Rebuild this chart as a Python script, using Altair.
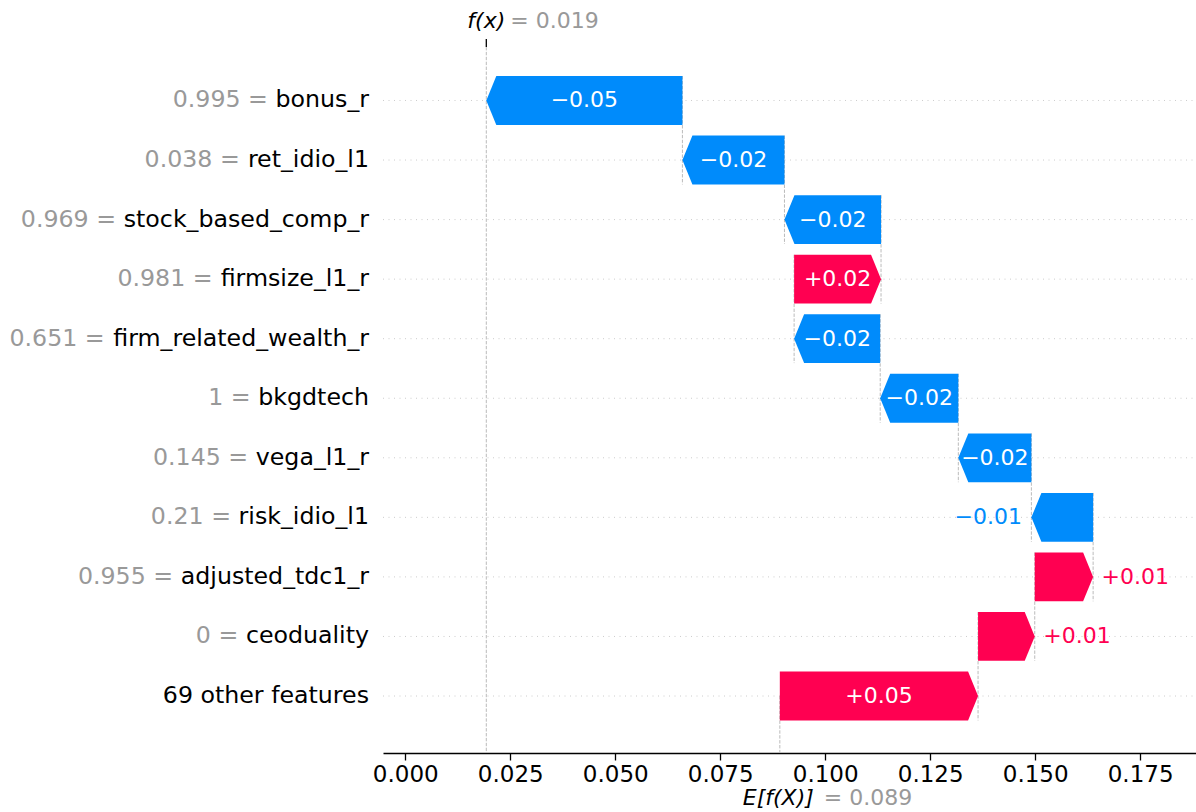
import altair as alt
import pandas as pd

# ---------------- data (top row first) ----------------
features = ["bonus_r", "ret_idio_l1", "stock_based_comp_r", "firmsize_l1_r",
            "firm_related_wealth_r", "bkgdtech", "vega_l1_r", "risk_idio_l1",
            "adjusted_tdc1_r", "ceoduality", "69 other features"]
feature_values = ["0.995", "0.038", "0.969", "0.981", "0.651", "1", "0.145",
                  "0.21", "0.955", "0", ""]
shap_values = [-0.0467, -0.0243, -0.0230, 0.0207, -0.0205, -0.0186, -0.0174,
               -0.0147, 0.0139, 0.0135, 0.0472]
base_value = 0.0892
x_ticks = [0.000, 0.025, 0.050, 0.075, 0.100, 0.125, 0.150, 0.175]

# ---------------- layout / style ----------------
BLUE = "#008bfb"
RED = "#ff0051"
FONT = "DejaVu Sans"
W, H = 813, 706
X_DOMAIN = [-0.0053, 0.1883]
Y_DOMAIN = [-0.898, 10.957]
BAR_HALF = 0.41
HEAD = 10 * (X_DOMAIN[1] - X_DOMAIN[0]) / W
NAME_SIZE = 23.7
LABEL_SIZE = 22

n = len(features)
fx_value = base_value + sum(shap_values)
starts = [0.0] * n
ends = [0.0] * n
cur = base_value
for i in range(n - 1, -1, -1):
    starts[i] = cur
    cur += shap_values[i]
    ends[i] = cur

xs = alt.Scale(domain=X_DOMAIN, nice=False, zero=False)
ys = alt.Scale(domain=Y_DOMAIN, nice=False, zero=False, reverse=True)
X_AXIS = alt.Axis(
    values=x_ticks, format=".3f", title=None, grid=False,
    labelFont=FONT, labelFontSize=23, labelColor="black",
    tickColor="black", domainColor="black", tickSize=7,
    tickWidth=1.3, domainWidth=1.3, labelPadding=3, labelFlush=False)


def X(field):
    return alt.X(field, scale=xs, axis=X_AXIS)


def Y(field):
    return alt.Y(field, scale=ys, axis=None)


# arrows as polygons (area with y/y2)
arr = []
for i, v in enumerate(shap_values):
    sgn = 1 if v > 0 else -1
    neck = ends[i] - sgn * min(HEAD, abs(v))
    kind = "pos" if v > 0 else "neg"
    arr.append(dict(id=i, x=starts[i], y=i - BAR_HALF, y2=i + BAR_HALF, kind=kind))
    arr.append(dict(id=i, x=neck, y=i - BAR_HALF, y2=i + BAR_HALF, kind=kind))
    arr.append(dict(id=i, x=ends[i], y=i, y2=i, kind=kind))
arr_df = pd.DataFrame(arr)

arrows = alt.Chart(arr_df).mark_area(orient="vertical", opacity=1).encode(
    x=X("x:Q"),
    y=alt.Y("y:Q", scale=ys, axis=None, stack=False),
    y2="y2:Q",
    detail="id:N",
    color=alt.Color("kind:N", scale=alt.Scale(domain=["pos", "neg"], range=[RED, BLUE]),
                    legend=None),
)

rows_df = pd.DataFrame({"row": list(range(n)), "name": features, "val": feature_values})

grid = alt.Chart(rows_df).mark_rule(color="#cccccc", strokeDash=[1, 4.5], strokeWidth=1).encode(
    y=Y("row:Q"),
    x=alt.value(0), x2=alt.value(W),
)

# connectors
con = []
for k in range(n - 1):
    con.append(dict(x=starts[k], y=k - BAR_HALF, y2=k + 1 + BAR_HALF))
con.append(dict(x=fx_value, y=Y_DOMAIN[0], y2=Y_DOMAIN[1]))
con.append(dict(x=base_value, y=n - 1, y2=Y_DOMAIN[1]))
con_df = pd.DataFrame(con)
connectors = alt.Chart(con_df).mark_rule(color="#bbbbbb", strokeDash=[3.4, 1.5], strokeWidth=1).encode(
    x=X("x:Q"),
    y=Y("y:Q"),
    y2="y2:Q",
)


# bar labels
def fmt(v):
    return ("%+0.02f" % v).replace("-", "\u2212")


lab = []
for i, v in enumerate(shap_values):
    inside = abs(v) > 0.016
    mode = "in" if inside else ("pos" if v > 0 else "neg")
    lab.append(dict(row=i, mid=(starts[i] + ends[i]) / 2, end=ends[i], text=fmt(v), mode=mode))
lab_df = pd.DataFrame(lab)

lab_in = alt.Chart(lab_df).transform_filter(alt.datum.mode == "in").mark_text(
    font=FONT, fontSize=LABEL_SIZE, color="white", align="center", baseline="middle").encode(
    x=X("mid:Q"), y=Y("row:Q"), text="text:N")
lab_pos = alt.Chart(lab_df).transform_filter(alt.datum.mode == "pos").mark_text(
    font=FONT, fontSize=LABEL_SIZE, color=RED, align="left", baseline="middle", dx=8.5).encode(
    x=X("end:Q"), y=Y("row:Q"), text="text:N")
lab_neg = alt.Chart(lab_df).transform_filter(alt.datum.mode == "neg").mark_text(
    font=FONT, fontSize=LABEL_SIZE, color=BLUE, align="right", baseline="middle", dx=-9.5).encode(
    x=X("end:Q"), y=Y("row:Q"), text="text:N")

# y labels
ADV = {" ": 651, ".": 651, "=": 1716, "_": 1024, "a": 1255, "b": 1300, "c": 1126,
       "d": 1300, "e": 1260, "f": 721, "g": 1300, "h": 1298, "i": 569, "j": 569,
       "k": 1186, "l": 569, "m": 1995, "n": 1298, "o": 1253, "p": 1300, "q": 1300,
       "r": 842, "s": 1067, "t": 803, "u": 1298, "v": 1212, "w": 1675, "x": 1212,
       "y": 1212, "z": 1075}


def text_w(s, size):
    return sum(ADV.get(c, 1303) for c in s) / 2048 * size


NAME_RIGHT = -14
names = alt.Chart(rows_df).mark_text(font=FONT, fontSize=NAME_SIZE, color="black",
                                     align="right", baseline="middle").encode(
    x=alt.value(NAME_RIGHT), y=Y("row:Q"), text="name:N")

val_layers = []
for i in range(n):
    if feature_values[i] == "":
        continue
    off = NAME_RIGHT - text_w(" " + features[i], NAME_SIZE)
    val_layers.append(
        alt.Chart(rows_df.iloc[[i]]).transform_calculate(lbl="datum.val + ' ='").mark_text(
            font=FONT, fontSize=NAME_SIZE, color="#999999",
            align="right", baseline="middle").encode(
            x=alt.value(off), y=Y("row:Q"), text="lbl:N"))

# top f(x) marker and labels
fx_df = pd.DataFrame({"x": [fx_value], "lab": ["f(x)"], "v": ["= %0.03f" % 0.019]})
top_tick = alt.Chart(fx_df).mark_rule(color="black", strokeWidth=1.3).encode(
    x=X("x:Q"), y=alt.value(-8), y2=alt.value(0))
top_lab1 = alt.Chart(fx_df).mark_text(font=FONT, fontSize=LABEL_SIZE, fontStyle="italic",
                                      color="black", align="right", baseline="middle", dx=19).encode(
    x=X("x:Q"), y=alt.value(-26), text="lab:N")
top_lab2 = alt.Chart(fx_df).mark_text(font=FONT, fontSize=LABEL_SIZE, color="#999999",
                                      align="left", baseline="middle", dx=24).encode(
    x=X("x:Q"), y=alt.value(-26), text="v:N")

e_df = pd.DataFrame({"x": [base_value], "lab": ["E[f(X)]"], "v": ["= %0.03f" % 0.089]})
e_lab1 = alt.Chart(e_df).mark_text(font=FONT, fontSize=LABEL_SIZE, fontStyle="italic",
                                   color="black", align="right", baseline="middle", dx=34).encode(
    x=X("x:Q"), y=alt.value(751), text="lab:N")
e_lab2 = alt.Chart(e_df).mark_text(font=FONT, fontSize=LABEL_SIZE, color="#999999",
                                   align="left", baseline="middle", dx=44).encode(
    x=X("x:Q"), y=alt.value(751), text="v:N")

chart = alt.layer(
    grid, connectors, arrows, lab_in, lab_pos, lab_neg, names, *val_layers,
    top_tick, top_lab1, top_lab2, e_lab1, e_lab2
).properties(
    width=W, height=H,
    padding={"left": 383, "top": 47, "right": 0, "bottom": 59},
    autosize=alt.AutoSizeParams(type="none"),
    background="white",
).configure_view(stroke=None)

chart.save("out.html", embed_options={"renderer": "svg", "actions": False})
